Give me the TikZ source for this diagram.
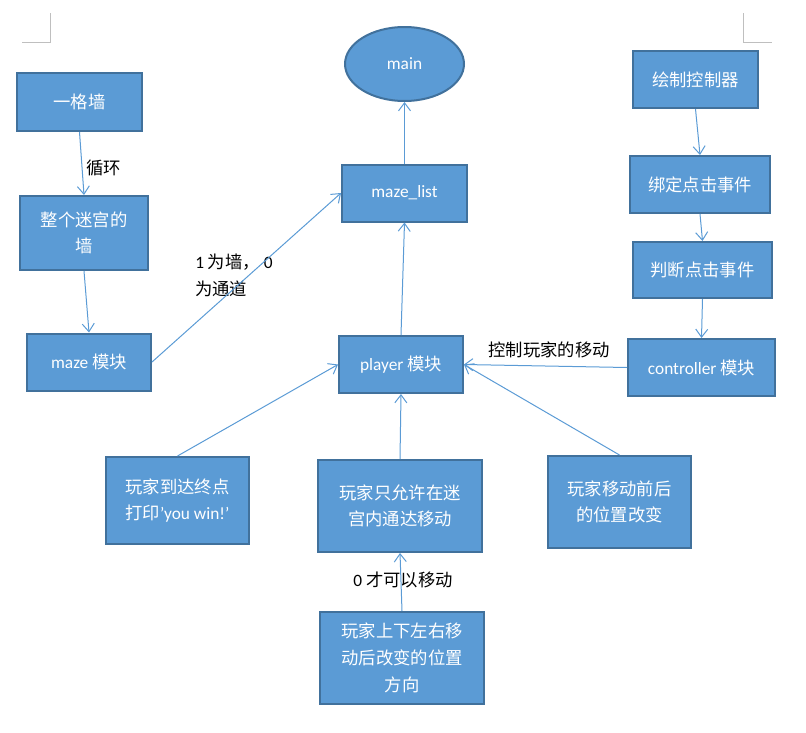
\documentclass[tikz,border=0pt]{standalone}
\usepackage{fontspec}
\setmainfont{Noto Sans CJK SC}
\newfontfamily\lat{Carlito}
\usepackage{xcolor}
\usepackage{tikz}
\usetikzlibrary{arrows.meta}
\usetikzlibrary{shapes.geometric}
\usetikzlibrary{positioning}

\definecolor{boxfill}{HTML}{5B9BD5}
\definecolor{boxline}{HTML}{41719C}
\definecolor{lineblue}{HTML}{5B9BD5}
\definecolor{markgray}{HTML}{BFBFBF}

\begin{document}
\begin{tikzpicture}[x=0.75pt, y=-0.75pt]
        \useasboundingbox (0,0) rectangle (806,732);
        \tikzstyle{every node}=[font=\fontsize{13}{20}\selectfont]
        \tikzstyle{block}=[rectangle,draw=boxline,line width=1.5pt,fill=boxfill,text=white,align=center,inner sep=0pt]
        \tikzstyle{link}=[draw=lineblue,line width=0.75pt,-{Straight Barb[length=6pt,width=9pt]}]
        \tikzstyle{note}=[text=black,inner sep=0pt]
        % page corner marks
        \draw[markgray,line width=0.6pt] (22,42) -- (50,42) -- (50,13);
        \draw[markgray,line width=0.6pt] (743,13) -- (743,42) -- (772,42);
        % left column
        \node[block,minimum width=93.75pt,minimum height=43.5pt] (wall) at (79.5,102) {一格墙};
        \node[block,minimum width=96pt,minimum height=55.5pt] (fullwall) at (84,233) {整个迷宫的\\墙};
        \node[block,minimum width=93pt,minimum height=42.75pt] (maze) at (89,362) {{\lat maze} 模块};
        % middle column
        \node[ellipse,draw=boxline,line width=1.5pt,fill=boxfill,text=white,inner sep=0pt,
              minimum width=89.25pt,minimum height=55.5pt] (main) at (404.5,64) {\lat main};
        \node[block,minimum width=93.75pt,minimum height=42.75pt] (mazelist) at (404.5,193) {\lat maze\_list};
        \node[block,minimum width=93pt,minimum height=42.75pt] (player) at (401,364.5) {{\lat player} 模块};
        % right column
        \node[block,minimum width=93.75pt,minimum height=42.75pt] (drawctl) at (695.5,79.5) {绘制控制器};
        \node[block,minimum width=105pt,minimum height=42.75pt] (bindev) at (700,184.5) {绑定点击事件};
        \node[block,minimum width=104.25pt,minimum height=42pt] (judgeev) at (702.5,270) {判断点击事件};
        \node[block,minimum width=110.25pt,minimum height=42.75pt] (controller) at (701.5,367.5) {{\lat controller} 模块};
        % bottom row
        \node[block,minimum width=107.25pt,minimum height=65.25pt] (win) at (177.5,500.5) {玩家到达终点\\打印{\lat ’you win!’}};
        \node[block,minimum width=123pt,minimum height=69pt] (allow) at (400,506) {玩家只允许在迷\\宫内通达移动};
        \node[block,minimum width=107.25pt,minimum height=69pt] (posch) at (619.5,502) {玩家移动前后\\的位置改变};
        \node[block,minimum width=123pt,minimum height=69pt] (keys) at (402,658) {玩家上下左右移\\动后改变的位置\\方向};
        % labels
        \node[note,anchor=west] (loop) at (86,168) {循环};
        \node[note,anchor=north west,align=left] (codes) at (195,254) {{\lat 1} 为墙， {\lat 0}\\为通道};
        \node[note] (ctlmove) at (549,350) {控制玩家的移动};
        \node[note] (zeromove) at (403,580) {{\lat 0} 才可以移动};
        % connectors
        \draw[link] (wall.south) -- (fullwall.north);
        \draw[link] (fullwall.south) -- (maze.north);
        \draw[link] (maze.east) -- (mazelist.west);
        \draw[link] (mazelist.north) -- (main.south);
        \draw[link] (player.north) -- (mazelist.south);
        \draw[link] (drawctl.south) -- (bindev.north);
        \draw[link] (bindev.south) -- (judgeev.north);
        \draw[link] (judgeev.south) -- (controller.north);
        \draw[link] (controller.west) -- (player.east);
        \draw[link] (win.north) -- (player.west);
        \draw[link] (allow.north) -- (player.south);
        \draw[link] (posch.north) -- (player.east);
        \draw[link] (keys.north) -- (allow.south);
\end{tikzpicture}
\end{document}
